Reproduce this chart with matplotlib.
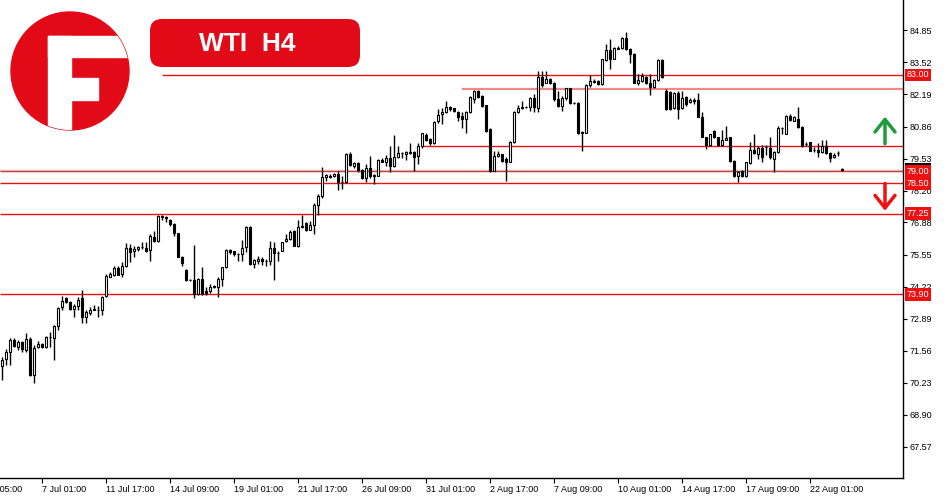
import numpy as np
import matplotlib.pyplot as plt
import matplotlib.transforms as mtransforms
from matplotlib.patches import Circle, Rectangle, FancyBboxPatch

plt.rcParams['font.family'] = ['Liberation Sans', 'DejaVu Sans']

# WTI H4 candles (oldest first)
opens = [
    70.92, 71.22, 71.50, 72.01, 71.71, 71.91, 71.60, 72.05, 70.57, 71.71,
    71.82, 71.71, 72.15, 72.09, 72.58, 73.36, 73.75, 73.57, 73.29, 73.43,
    73.74, 72.95, 73.11, 73.29, 73.25, 73.23, 73.81, 74.63, 74.72, 74.99,
    74.74, 75.09, 75.82, 75.68, 75.78, 75.85, 75.84, 75.74, 76.29, 76.12,
    77.16, 77.12, 77.00, 76.81, 76.43, 75.46, 74.91, 74.51, 74.51, 73.91,
    74.54, 74.02, 74.02, 74.22, 74.22, 74.54, 75.02,
    75.74, 75.68, 75.57, 75.57, 75.85, 76.70, 75.16, 75.27, 75.37, 75.30,
    75.30, 75.82, 75.60, 75.68, 76.10, 76.19, 76.51, 75.89, 76.75, 76.86,
    76.57, 76.79, 77.62, 77.96, 78.77, 78.80, 78.79, 78.88, 78.54, 78.54,
    79.74, 79.23, 79.34, 79.05, 78.72, 79.13, 78.82, 78.82, 79.47, 79.41,
    79.57, 79.23, 79.60, 79.76, 79.74, 79.79, 79.81, 79.64, 80.06, 80.51,
    80.33, 80.16, 81.07, 81.37, 81.48, 81.67,
    81.61, 81.47, 81.30, 81.16, 81.47, 81.99, 82.34, 82.13, 81.75, 80.75,
    79.03, 79.62, 79.72, 79.51, 79.41, 80.20, 81.47, 81.65, 81.66, 81.69,
    82.06, 81.65, 82.93, 82.68, 82.85, 82.68, 81.99, 81.72, 82.06, 82.44,
    81.83, 81.83, 80.61, 80.61, 82.57, 82.73, 82.75, 82.61, 83.62, 84.04,
    83.68, 84.09, 84.13, 84.55, 84.09, 83.86, 82.66, 82.75, 82.93, 82.68,
    82.52, 82.79, 83.62,
    82.34, 82.31, 81.62, 82.27, 81.65, 82.09, 81.88, 81.95, 81.95, 81.24,
    80.41, 80.10, 80.68, 80.41, 80.10, 80.30, 80.41, 79.44, 78.79, 79.03,
    78.79, 79.33, 79.88, 79.72, 79.97, 80.03, 79.97, 79.51, 79.79, 80.79,
    80.57, 81.30, 81.10, 81.17, 80.85, 80.13, 80.20, 79.88, 79.88, 79.79,
    80.06, 79.75, 79.58, 79.75, 79.08,
]
highs = [
    71.29, 71.64, 72.08, 72.08, 72.01, 71.98, 72.29, 72.15, 71.78, 71.98,
    71.87, 72.18, 72.33, 72.62, 73.39, 73.85, 73.78, 73.64, 73.50, 73.78,
    74.08, 73.23, 73.39, 73.46, 73.42, 73.82, 74.74, 74.84, 75.09, 75.06,
    75.23, 76.01, 75.99, 75.92, 75.89, 76.05, 76.05, 76.40, 76.54, 77.19,
    77.20, 77.16, 77.02, 76.84, 76.43, 75.50, 74.95, 74.54, 75.94, 74.58,
    75.02, 74.22, 74.33, 74.30, 74.61, 75.05, 75.78,
    75.78, 75.71, 75.60, 76.15, 76.75, 76.75, 75.37, 75.50, 75.46, 75.37,
    76.10, 76.06, 75.71, 76.08, 76.40, 76.57, 76.57, 76.98, 77.20, 76.88,
    76.95, 77.67, 78.06, 79.19, 78.88, 78.91, 78.95, 79.02, 78.82, 79.78,
    79.82, 79.37, 79.37, 79.09, 79.30, 79.64, 78.91, 79.51, 79.57, 79.69,
    80.04, 80.51, 80.06, 79.82, 79.85, 80.16, 79.85, 80.16, 80.61, 80.58,
    80.38, 81.09, 81.58, 81.65, 81.92, 81.71,
    81.65, 81.51, 81.47, 81.51, 82.13, 82.37, 82.37, 82.16, 81.77, 80.78,
    79.85, 79.85, 79.74, 79.58, 80.27, 81.51, 81.75, 81.92, 81.72, 82.10,
    82.20, 83.17, 83.17, 83.17, 82.89, 82.71, 82.34, 82.13, 82.48, 82.46,
    81.86, 81.86, 80.68, 82.61, 82.99, 82.82, 82.78, 83.68, 84.27, 84.51,
    84.17, 84.20, 84.57, 84.78, 84.13, 83.90, 83.03, 83.10, 82.96, 83.03,
    82.85, 83.68, 83.65,
    82.41, 82.34, 82.31, 82.34, 82.34, 82.13, 82.06, 82.04, 82.27, 81.48,
    80.41, 80.57, 80.71, 80.44, 80.71, 80.89, 80.44, 79.47, 79.03, 79.05,
    79.41, 80.20, 80.55, 80.06, 80.10, 80.10, 80.41, 79.83, 80.89, 80.85,
    81.35, 81.37, 81.30, 81.68, 80.89, 80.20, 80.23, 80.00, 80.16, 80.30,
    80.30, 79.79, 79.75, 79.86, 79.14,
]
lows = [
    70.33, 70.97, 70.97, 71.71, 71.61, 71.50, 71.50, 70.53, 70.22, 71.68,
    71.67, 71.68, 71.71, 71.18, 72.42, 73.27, 73.54, 73.23, 72.95, 73.23,
    72.70, 72.71, 73.05, 73.23, 72.95, 73.05, 73.78, 74.61, 74.67, 74.69,
    74.61, 75.05, 75.23, 75.43, 75.71, 75.78, 75.64, 75.30, 76.05, 76.05,
    76.98, 76.88, 76.75, 76.33, 75.43, 75.09, 74.47, 74.47, 73.74, 73.89,
    73.89, 73.89, 73.94, 74.16, 73.78, 74.26, 74.99,
    75.57, 75.50, 75.30, 75.30, 75.64, 75.13, 74.99, 75.16, 75.13, 75.09,
    75.13, 74.50, 75.30, 75.68, 76.06, 76.15, 75.89, 75.85, 76.65, 76.54,
    76.57, 76.40, 77.20, 77.89, 78.61, 78.72, 78.75, 78.22, 78.26, 78.51,
    79.23, 79.13, 78.99, 78.68, 78.58, 78.72, 78.47, 78.79, 79.37, 79.23,
    78.99, 79.20, 79.57, 79.57, 79.48, 79.71, 79.02, 79.30, 79.99, 80.27,
    80.10, 80.13, 81.02, 80.98, 81.44, 81.51,
    81.47, 81.10, 80.82, 80.59, 81.41, 81.83, 82.06, 81.69, 80.64, 78.98,
    79.00, 79.58, 79.41, 78.61, 79.37, 80.17, 81.41, 81.58, 81.63, 81.51,
    81.47, 81.47, 82.52, 82.66, 82.61, 81.92, 81.69, 81.51, 81.97, 81.79,
    81.79, 80.54, 79.85, 80.59, 82.52, 82.66, 82.59, 82.57, 83.58, 83.24,
    83.65, 84.06, 84.09, 84.04, 83.48, 82.66, 82.57, 82.71, 82.61, 82.16,
    82.48, 82.75, 82.89,
    81.54, 81.54, 81.58, 81.17, 81.58, 81.72, 81.82, 81.79, 81.24, 80.41,
    79.92, 80.06, 80.38, 80.06, 80.06, 80.30, 79.41, 78.78, 78.54, 78.75,
    78.78, 79.30, 79.72, 79.51, 79.41, 79.69, 79.51, 78.96, 79.75, 80.55,
    80.55, 81.07, 81.07, 80.82, 80.02, 80.06, 79.86, 79.79, 79.58, 79.76,
    79.72, 79.41, 79.55, 79.65, 79.00,
]
closes = [
    71.18, 71.50, 72.01, 71.75, 71.94, 71.64, 72.05, 70.57, 71.68, 71.84,
    71.71, 72.15, 72.14, 72.58, 73.34, 73.64, 73.57, 73.29, 73.43, 73.68,
    72.95, 73.18, 73.23, 73.25, 73.24, 73.78, 74.67, 74.74, 74.99, 74.72,
    75.09, 75.82, 75.64, 75.78, 75.85, 75.86, 75.68, 76.33, 76.10, 77.16,
    77.10, 77.06, 76.81, 76.43, 75.46, 75.19, 74.51, 74.50, 73.91, 74.54,
    73.91, 73.94, 74.22, 74.23, 74.54, 75.02, 75.74,
    75.64, 75.57, 75.58, 75.82, 76.70, 75.16, 75.32, 75.37, 75.27, 75.29,
    75.82, 75.60, 75.61, 76.06, 76.19, 76.47, 75.89, 76.70, 76.68, 76.57,
    76.79, 77.62, 77.99, 78.75, 78.84, 78.77, 78.88, 78.54, 78.55, 79.74,
    79.27, 79.34, 79.05, 78.71, 79.13, 78.82, 78.84, 79.47, 79.41, 79.55,
    79.23, 79.60, 79.78, 79.75, 79.81, 79.78, 79.60, 80.06, 80.58, 80.32,
    80.16, 81.05, 81.34, 81.47, 81.67, 81.58,
    81.51, 81.27, 81.19, 81.47, 82.09, 82.34, 82.10, 81.72, 80.68, 79.03,
    79.65, 79.72, 79.44, 79.41, 80.20, 81.47, 81.65, 81.66, 81.68, 82.06,
    81.69, 82.93, 82.57, 82.82, 82.66, 81.99, 81.72, 82.06, 82.44, 81.83,
    81.82, 80.61, 80.62, 82.57, 82.75, 82.72, 82.61, 83.65, 84.04, 83.65,
    84.11, 84.10, 84.55, 84.06, 83.86, 82.68, 82.79, 82.96, 82.66, 82.52,
    82.79, 83.62, 82.93,
    81.58, 81.58, 82.27, 81.58, 82.06, 81.79, 81.95, 81.94, 81.24, 80.41,
    80.10, 80.55, 80.41, 80.10, 80.30, 80.37, 79.44, 78.82, 78.96, 78.79,
    79.37, 79.88, 79.75, 79.97, 79.58, 80.02, 79.58, 79.79, 80.79, 80.78,
    81.30, 81.13, 81.24, 80.85, 80.06, 80.12, 79.86, 79.87, 79.79, 80.06,
    79.75, 79.55, 79.68, 79.76, 79.07,
]

# time axis labels (bar index of each label)
date_pos = [-6, 10, 26, 42, 58, 74, 90, 106, 122, 138, 154, 170, 186, 202]
date_labels = ["4 Jul 05:00", "7 Jul 01:00", "11 Jul 17:00", "14 Jul 09:00",
               "19 Jul 01:00", "21 Jul 17:00", "26 Jul 09:00", "31 Jul 01:00",
               "2 Aug 17:00", "7 Aug 09:00", "10 Aug 01:00", "14 Aug 17:00",
               "17 Aug 09:00", "22 Aug 01:00"]
price_ticks = [67.57, 68.90, 70.23, 71.56, 72.89, 74.22, 75.55, 76.88,
               78.20, 79.53, 80.86, 82.19, 83.52, 84.85]

# support / resistance levels and the bar they start from
level_prices = [83.00, 82.40, 80.06, 79.00, 78.50, 77.25, 73.90]
level_start = [40, 115, 105, None, None, None, None]
labeled_levels = [83.00, 79.00, 78.50, 77.25, 73.90]
bid = 79.07

RED = '#ee1111'
LOGO_RED = '#e30a17'

o = np.array(opens)
h = np.array(highs)
l = np.array(lows)
c = np.array(closes)
x = np.arange(len(c))

fig = plt.figure(figsize=(9.5, 5), dpi=100)
ax = fig.add_axes([0, 22 / 500, 903 / 950, 478 / 500])
xmin, xmax = -0.575, 225.2
ax.set_xlim(xmin, xmax)
ax.set_ylim(66.28, 86.11)

for s in ['top', 'left']:
    ax.spines[s].set_visible(False)
for s in ['right', 'bottom']:
    ax.spines[s].set_linewidth(1)

# levels
for p, st in zip(level_prices, level_start):
    x0 = xmin if st is None else st
    if p == 82.40:
        ax.hlines(p, x0, xmax, color='#f48888', lw=1.6, zorder=1)
    else:
        ax.hlines(p, x0, xmax, color=RED, lw=1, zorder=1)
ax.axhline(bid, color='#c0c0c0', lw=1, zorder=1)

# candles
up = c >= o
bot = np.minimum(o, c)
hgt = np.abs(c - o)
ax.vlines(x, l, h, color='black', lw=1, zorder=2)
ax.bar(x[up], hgt[up], bottom=bot[up], width=0.55, color='white',
       edgecolor='black', lw=0.8, zorder=3)
ax.bar(x[~up], hgt[~up], bottom=bot[~up], width=0.55, color='black',
       edgecolor='black', lw=0.8, zorder=3)

# axes ticks
ax.yaxis.tick_right()
ax.set_yticks(price_ticks)
ax.set_yticklabels(['%.2f' % t for t in price_ticks])
ax.tick_params(axis='y', length=3, pad=1.5, labelsize=6.5, width=0.8)
ax.set_xticks(date_pos[1:])
ax.set_xticklabels(date_labels[1:], ha='left')
ax.tick_params(axis='x', length=3.5, pad=1.5, labelsize=6.5, width=0.8)
ax.annotate(date_labels[0], xy=(date_pos[0], 0),
            xycoords=mtransforms.blended_transform_factory(ax.transData, ax.transAxes),
            xytext=(0, -5), textcoords='offset points', ha='left', va='top',
            fontsize=6.5, annotation_clip=False)

# price labels on the right
tr = mtransforms.blended_transform_factory(ax.transAxes, ax.transData)
ax.text(1.004, bid, '%.2f' % bid, transform=tr, color='white', fontsize=6.5,
        ha='left', va='center', clip_on=False, zorder=5,
        bbox=dict(boxstyle='square,pad=0.2', fc='black', ec='none'))
for p in labeled_levels:
    ax.text(1.004, p, '%.2f' % p, transform=tr, color='white', fontsize=6.5,
            ha='left', va='center', clip_on=False, zorder=6,
            bbox=dict(boxstyle='square,pad=0.2', fc=RED, ec='none'))

# arrows
ax.annotate('', xy=(220.7, 81.27), xytext=(220.7, 80.15),
            arrowprops=dict(arrowstyle='->,head_length=0.5,head_width=0.4',
                            color='#1e9c3c', lw=2.5, mutation_scale=18,
                            shrinkA=0, shrinkB=0))
ax.annotate('', xy=(220.7, 77.37), xytext=(220.7, 78.50),
            arrowprops=dict(arrowstyle='->,head_length=0.5,head_width=0.4',
                            color=RED, lw=2.5, mutation_scale=18,
                            shrinkA=0, shrinkB=0))

# logo and title badge (pixel coordinates)
ov = fig.add_axes([0, 0, 1, 1], zorder=5)
ov.set_xlim(0, 950)
ov.set_ylim(500, 0)
ov.axis('off')
ov.patch.set_alpha(0)
disc = Circle((70, 71), 59, color=LOGO_RED)
ov.add_patch(disc)
for rx, ry, rw, rh in [(48, 36, 23, 100), (48, 36, 90, 21), (71, 78, 27, 22)]:
    cut = Rectangle((rx, ry), rw, rh, color='white')
    ov.add_patch(cut)
    cut.set_clip_path(disc)
badge = FancyBboxPatch((150, 19), 210, 48, boxstyle='round,pad=0,rounding_size=12',
                       fc=LOGO_RED, ec='none')
ov.add_patch(badge)
ov.text(247, 44, 'WTI  H4', color='white', fontsize=19, fontweight='bold',
        ha='center', va='center')

fig.savefig('out.png', dpi=100)
